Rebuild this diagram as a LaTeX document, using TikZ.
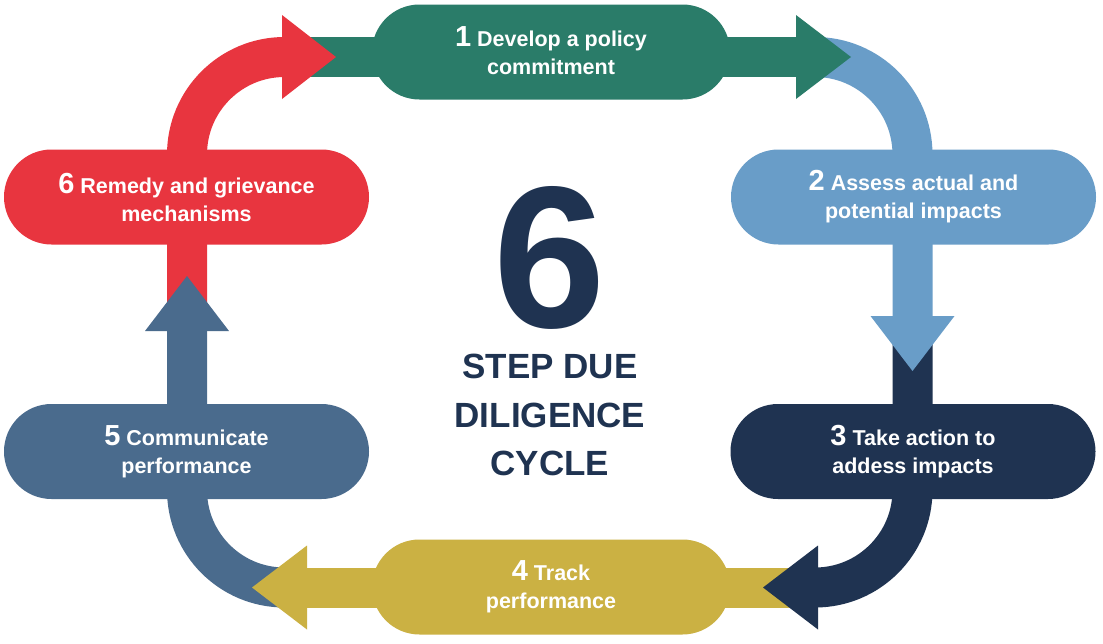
\documentclass[tikz,border=0pt]{standalone}
\usepackage{fontspec}
\setmainfont{Liberation Sans}
\definecolor{cgreen}{HTML}{2A7C69}
\definecolor{cblue}{HTML}{699DC8}
\definecolor{cnavy}{HTML}{1F3351}
\definecolor{cgold}{HTML}{CBB143}
\definecolor{cslate}{HTML}{4A6B8D}
\definecolor{cred}{HTML}{E8353F}
\newcommand\stepnum[1]{{\fontsize{29}{28}\selectfont #1}}
\tikzset{
  pill/.style={rounded corners=47.5pt, minimum height=95pt, minimum width=365pt, inner sep=0pt,
    text=white, align=center, font=\fontsize{21.5}{28}\selectfont\bfseries},
  band/.style={line width=40pt, line cap=butt},
  bigtitle/.style={text=cnavy, font=\fontsize{35}{35}\selectfont\bfseries, anchor=base, inner sep=0pt,
    text height=25pt, text depth=0pt},
}
\begin{document}
\begin{tikzpicture}[x=1pt,y=-1pt]
\useasboundingbox[fill=white] (0,0) rectangle (1103,643);
% bands (tails)
\draw[band,cgreen] (305,57) -- (796,57);
\draw[band,cblue] (800,57) -- (815,57) arc[start angle=-90,end angle=0,radius=97.5] -- (912.5,316);
\draw[band,cnavy] (912.5,340) -- (912.5,490) arc[start angle=0,end angle=90,radius=97.5];
\draw[band,cgold] (790,587.5) -- (307,587.5);
\draw[band,cslate] (284.5,587.5) arc[start angle=90,end angle=180,radius=97.5] -- (187,331);
\draw[band,cred] (187,305) -- (187,154.5) arc[start angle=180,end angle=270,radius=97.5];
% pills
\node[pill,fill=cgreen,minimum width=358pt] (p1) at (551,52) {\stepnum{1} Develop a policy\\commitment\rule[-3pt]{0pt}{3pt}};
\node[pill,fill=cblue] (p2) at (913.5,197) {\stepnum{2} Assess actual and\\potential impacts};
\node[pill,fill=cnavy] (p3) at (913,451.5) {\stepnum{3} Take action to\\addess impacts};
\node[pill,fill=cgold,minimum width=358pt] (p4) at (551,587) {\stepnum{4} Track\\performance};
\node[pill,fill=cslate] (p5) at (186.5,451.5) {\stepnum{5} Communicate\\performance};
\node[pill,fill=cred] (p6) at (186.5,197) {\stepnum{6} Remedy and grievance\\mechanisms};
% heads
\fill[cgreen] (796,15) -- (851,57) -- (796,99) -- cycle;
\fill[cblue] (870.5,316) -- (912.5,371) -- (954.5,316) -- cycle;
\fill[cnavy] (818,545.5) -- (763,587.5) -- (818,629.5) -- cycle;
\fill[cgold] (307,545.5) -- (252,587.5) -- (307,629.5) -- cycle;
\fill[cslate] (145,331) -- (187,276) -- (229,331) -- cycle;
\fill[cred] (282,15) -- (336,57) -- (282,99) -- cycle;
% centre title
\node[text=cnavy, font=\fontsize{202}{202}\selectfont\bfseries, anchor=base, inner sep=0pt,
  text height=145pt, text depth=0pt] (six) at (550,327) {6};
\node[bigtitle] (t1) at (550,378) {STEP DUE};
\node[bigtitle] (t2) at (550,427) {DILIGENCE};
\node[bigtitle] (t3) at (550,475) {CYCLE};
\end{tikzpicture}
\end{document}
